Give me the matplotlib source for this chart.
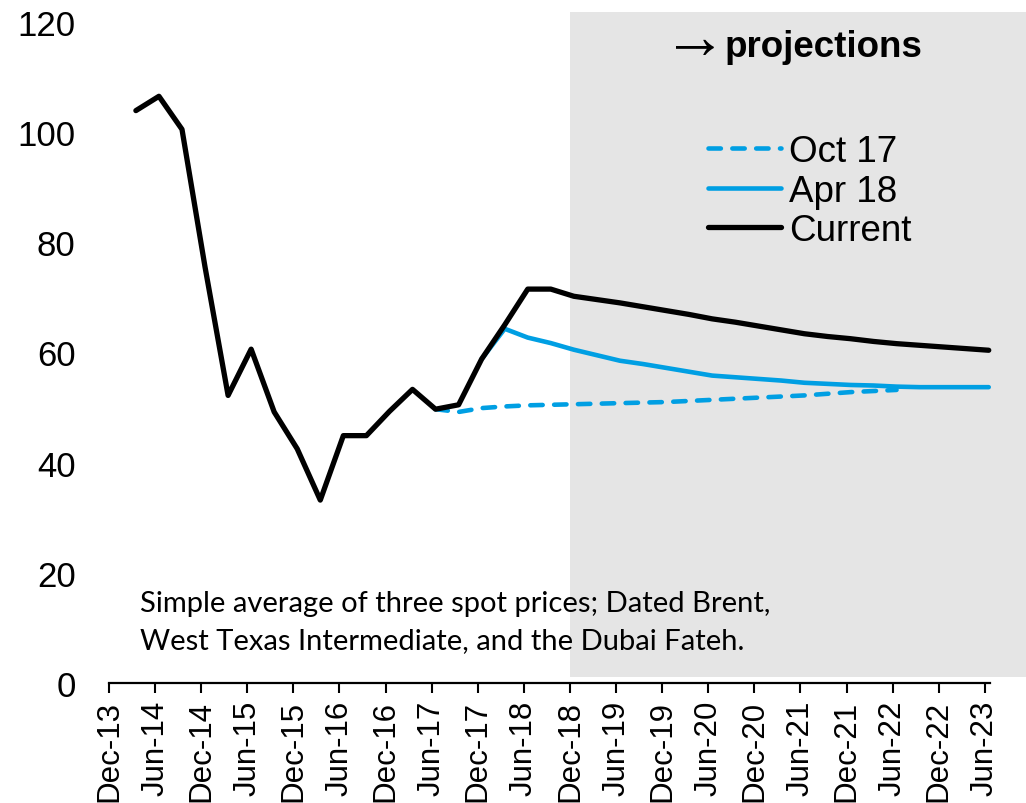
import matplotlib
matplotlib.use("Agg")
import matplotlib.pyplot as plt
import numpy as np

# x positions: months after 1 Dec 2013, points sit mid-month of each quarter end
tick_labels = ["Dec-13", "Jun-14", "Dec-14", "Jun-15", "Dec-15", "Jun-16", "Dec-16",
               "Jun-17", "Dec-17", "Jun-18", "Dec-18", "Jun-19", "Dec-19", "Jun-20",
               "Dec-20", "Jun-21", "Dec-21", "Jun-22", "Dec-22", "Jun-23"]
tick_months = np.arange(len(tick_labels)) * 6

# Current: Mar-14 .. Jun-23 quarterly
current = [103.9, 106.5, 100.5, 75.5, 52.2, 60.6, 49.2, 42.5, 33.2, 44.9,
           44.9, 49.3, 53.3, 49.7, 50.5, 58.8, 65.0, 71.5, 71.5, 70.2,
           69.6, 69.0, 68.3, 67.6, 66.9, 66.1, 65.5, 64.8, 64.1, 63.4,
           62.9, 62.5, 62.0, 61.6, 61.3, 61.0, 60.7, 60.4]
current_start = 0  # Mar-14

# Apr 18 projection: Dec-17 .. Jun-23
apr18 = [58.8, 64.3, 62.7, 61.7, 60.5, 59.5, 58.5, 57.9, 57.2, 56.5,
         55.8, 55.5, 55.2, 54.9, 54.5, 54.3, 54.1, 54.0, 53.8, 53.7,
         53.7, 53.7, 53.7]
apr18_start = 15  # Dec-17

# Oct 17 projection: Jun-17 .. Jun-22
oct17 = [49.7, 49.2, 49.9, 50.2, 50.4, 50.5, 50.6, 50.7, 50.8, 50.9,
         51.0, 51.2, 51.4, 51.6, 51.8, 52.0, 52.2, 52.5, 52.8, 53.0, 53.2]
oct17_start = 13  # Jun-17

proj_start = 60  # Dec-18


def quarter_x(start, n):
    return 3.5 + 3 * (start + np.arange(n))


plt.rcParams["font.family"] = ["Liberation Sans", "DejaVu Sans"]
blue = "#009FE3"

fig = plt.figure(figsize=(10.26, 8.04), dpi=100)
ax = fig.add_axes([109 / 1026, 120 / 804, 917 / 1026, 671 / 804])

ax.set_xlim(0, 119.35)
ax.set_ylim(0, 121.8)

# shaded projection period
ax.axvspan(proj_start, 119.35, ymin=1.1 / 121.8, ymax=1.0, color="#e5e5e5", lw=0, zorder=0)

ax.plot(quarter_x(oct17_start, len(oct17)), oct17, color=blue, lw=3.3,
        dashes=(2.7, 2.5), dash_capstyle="round", solid_capstyle="round", label="Oct 17", zorder=2)
ax.plot(quarter_x(apr18_start, len(apr18)), apr18, color=blue, lw=3.3,
        solid_capstyle="round", label="Apr 18", zorder=3)
ax.plot(quarter_x(current_start, len(current)), current, color="black", lw=3.8,
        solid_capstyle="round", label="Current", zorder=4)

# axes styling
for side in ["top", "right", "left"]:
    ax.spines[side].set_visible(False)
ax.spines["bottom"].set_linewidth(1.6)
ax.spines["bottom"].set_bounds(0, 114.7)

ax.set_xticks(tick_months)
ax.set_xticklabels(tick_labels, rotation=90, fontsize=22.5)
ax.tick_params(axis="x", length=7, width=1.5, pad=5)

ax.set_yticks(np.arange(0, 121, 20))
ax.tick_params(axis="y", length=0, labelsize=25, pad=24)

leg = ax.legend(loc="upper left", bbox_to_anchor=(0.653, 0.818), frameon=False,
                fontsize=26.5, handlelength=2.0, handletextpad=0.2, labelspacing=0.12,
                borderpad=0, borderaxespad=0)

ax.text(0.6385, 0.958, "→", transform=ax.transAxes, fontsize=46, ha="center", va="center")
ax.text(0.6716, 0.949, "projections", transform=ax.transAxes, fontsize=26.5,
        fontweight="bold", ha="left", va="center")

ax.text(0.0338, 0.0917,
        "Simple average of three spot prices; Dated Brent,\nWest Texas Intermediate, and the Dubai Fateh.",
        transform=ax.transAxes, fontsize=21, family=["Lato", "DejaVu Sans"],
        ha="left", va="center", linespacing=1.5)

fig.savefig("out.png", dpi=100)
